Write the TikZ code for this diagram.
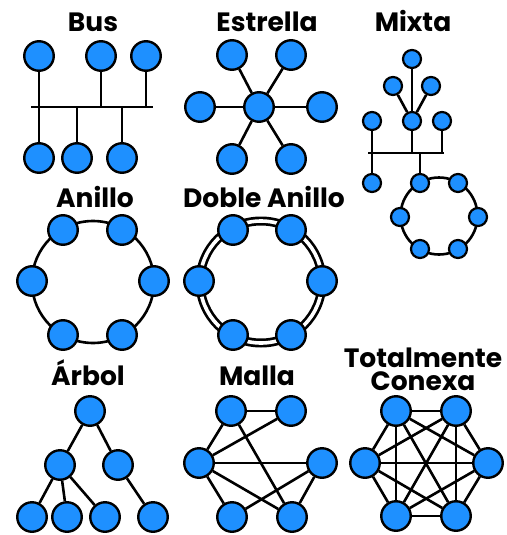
\documentclass[tikz,border=0pt]{standalone}
\usepackage{fontspec}
\setmainfont{Poppins}
\definecolor{nodeblue}{HTML}{1E90FF}
\begin{document}
\begin{tikzpicture}[x=1pt,y=-1pt,
  link/.style={line width=2.6pt,black},
  host/.style={circle,draw=black,line width=2.4pt,fill=nodeblue,minimum size=29.5pt,inner sep=0pt},
  smallhost/.style={host,minimum size=18pt,line width=2.2pt},
  ttl/.style={anchor=base,font=\bfseries\fontsize{26.5}{22.5}\selectfont,inner sep=0pt}]
\useasboundingbox (0,0) rectangle (506,535);

% ---------- titles
\node[ttl] (tBus) at (93,32) {Bus};
\node[ttl] (tEst) at (267,32) {Estrella};
\node[ttl] (tMix) at (413,32) {Mixta};
\node[ttl] (tAni) at (95,207) {Anillo};
\node[ttl] (tDob) at (264,207) {Doble Anillo};
\node[ttl] (tArb) at (88,385) {Árbol};
\node[ttl] (tMal) at (257,385) {Malla};
\node[ttl,align=center,anchor=base] (tTot) at (423,390) {Totalmente\\Conexa};

% ---------- Bus
\coordinate (busL) at (31,107);
\coordinate (busR) at (153,107);
\node[host] (b1) at (39,56) {};
\node[host] (b2) at (101,56) {};
\node[host] (b3) at (146,56) {};
\node[host] (b4) at (39,158) {};
\node[host] (b5) at (77,158) {};
\node[host] (b6) at (122,158) {};
\draw[link] (busL) -- (busR);
\draw[link] (b1) -- (b4);
\draw[link] (b2) -- (b2 |- busL);
\draw[link] (b3) -- (b3 |- busL);
\draw[link] (b5) -- (b5 |- busL);
\draw[link] (b6) -- (b6 |- busL);

% ---------- Estrella
\node[host] (s0) at (259,107) {};
\node[host] (s1) at (232,55) {};
\node[host] (s2) at (291,55) {};
\node[host] (s3) at (200,107) {};
\node[host] (s4) at (322,107) {};
\node[host] (s5) at (232,159) {};
\node[host] (s6) at (291,159) {};
\foreach \k in {1,...,6} \draw[link] (s0) -- (s\k);

% ---------- Mixta
\coordinate (mbusL) at (368,153);
\coordinate (mbusR) at (444,153);
\draw[link] (439,216) circle[radius=38.5];
\node[smallhost] (m1) at (412,59) {};
\node[smallhost] (m2) at (393,86) {};
\node[smallhost] (m3) at (431,86) {};
\node[smallhost] (m4) at (372,121) {};
\node[smallhost] (m5) at (412,121) {};
\node[smallhost] (m6) at (442,121) {};
\node[smallhost] (m7) at (372,183) {};
\node[smallhost] (r1) at (420,183) {};
\node[smallhost] (r2) at (458,183) {};
\node[smallhost] (r3) at (400,217) {};
\node[smallhost] (r4) at (478,217) {};
\node[smallhost] (r5) at (420,249) {};
\node[smallhost] (r6) at (458,249) {};
\draw[link] (mbusL) -- (mbusR);
\draw[link] (m1) -- (m5);
\draw[link] (m2) -- (m5);
\draw[link] (m3) -- (m5);
\draw[link] (m4) -- (m7);
\draw[link] (m5) -- (m5 |- mbusL);
\draw[link] (m6) -- (m6 |- mbusL);
\draw[link] (r1) -- (r1 |- mbusL);

% ---------- Anillo
\draw[link] (93,282) circle[radius=61];
\node[host] (a1) at (63,230) {};
\node[host] (a2) at (122,230) {};
\node[host] (a3) at (32,281) {};
\node[host] (a4) at (154,281) {};
\node[host] (a5) at (63,335) {};
\node[host] (a6) at (122,335) {};

% ---------- Doble Anillo
\draw[line width=9pt,black] (261,282) circle[radius=61];
\draw[line width=3.6pt,white] (261,282) circle[radius=61];
\node[host] (d1) at (233,230) {};
\node[host] (d2) at (291,230) {};
\node[host] (d3) at (199,281) {};
\node[host] (d4) at (322,281) {};
\node[host] (d5) at (233,335) {};
\node[host] (d6) at (291,335) {};

% ---------- Arbol
\node[host] (t0) at (90,411) {};
\node[host] (t1) at (60,465) {};
\node[host] (t2) at (118,465) {};
\node[host] (t3) at (32,517) {};
\node[host] (t4) at (67,517) {};
\node[host] (t5) at (105,517) {};
\node[host] (t6) at (153,517) {};
\draw[link] (t0) -- (t1);
\draw[link] (t0) -- (t2);
\draw[link] (t1) -- (t3);
\draw[link] (t1) -- (t4);
\draw[link] (t1) -- (t5);
\draw[link] (t2) -- (t6);

% ---------- Malla
\node[host] (g1) at (231,411) {};
\node[host] (g2) at (291,411) {};
\node[host] (g3) at (199,463) {};
\node[host] (g4) at (322,463) {};
\node[host] (g5) at (232,517) {};
\node[host] (g6) at (292,517) {};
\draw[link] (g1) -- (g2);
\draw[link] (g1) -- (g3);
\draw[link] (g1) -- (g6);
\draw[link] (g3) -- (g2);
\draw[link] (g3) -- (g4);
\draw[link] (g3) -- (g5);
\draw[link] (g3) -- (g6);
\draw[link] (g4) -- (g5);
\draw[link] (g4) -- (g6);

% ---------- Totalmente Conexa
\node[host] (c1) at (396,411) {};
\node[host] (c2) at (456,411) {};
\node[host] (c3) at (365,463) {};
\node[host] (c4) at (488,463) {};
\node[host] (c5) at (396,516) {};
\node[host] (c6) at (456,516) {};
\foreach \i in {1,...,5} {
  \pgfmathtruncatemacro{\jstart}{\i+1}
  \foreach \j in {\jstart,...,6} \draw[link] (c\i) -- (c\j);
}
\end{tikzpicture}
\end{document}
